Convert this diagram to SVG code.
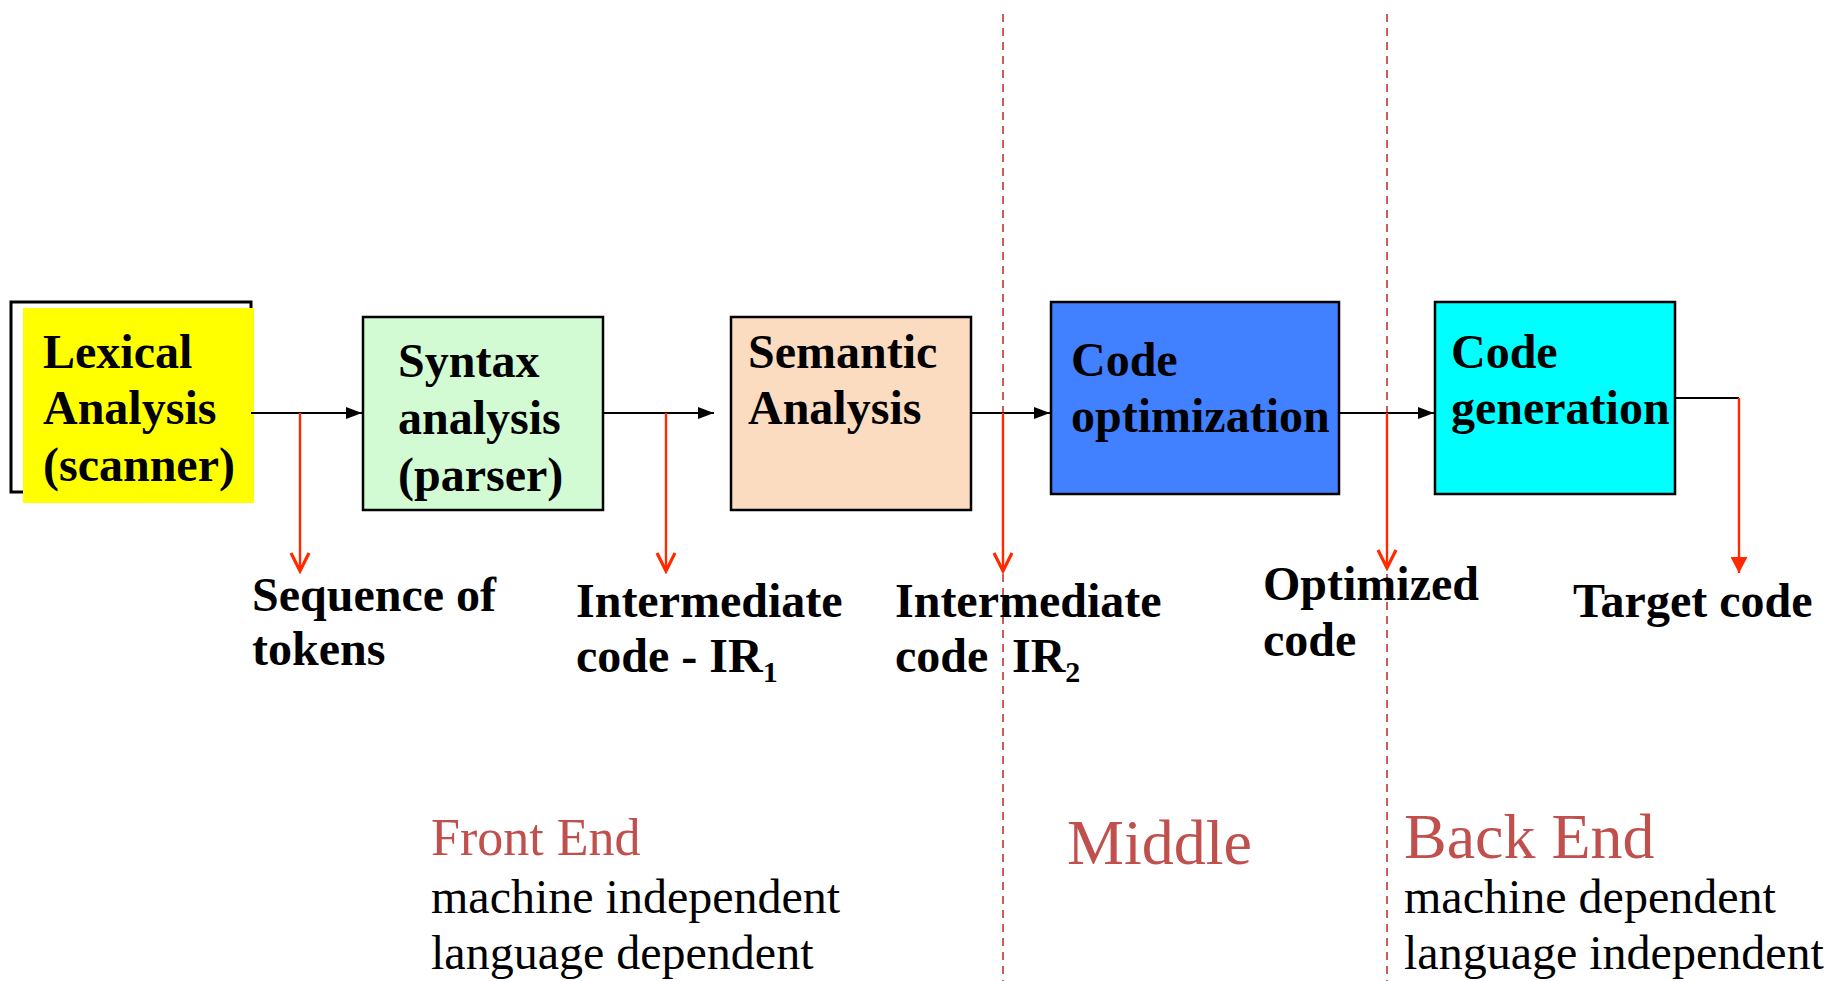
<svg xmlns="http://www.w3.org/2000/svg" width="1830" height="981" viewBox="0 0 1830 981">
<style>
  .box { stroke: #000; stroke-width: 2.5; }
  .nt { font-family: "Liberation Serif", "Times New Roman", serif; font-weight: bold; font-size: 48px; fill: #000; }
  .lab { font-family: "Liberation Serif", "Times New Roman", serif; font-weight: bold; font-size: 48px; fill: #000; }
  .sub { font-size: 30px; }
  .flow { stroke: #000; stroke-width: 2; fill: none; }
  .out { stroke: #ff2a00; stroke-width: 2.4; fill: none; }
  .div { stroke: #cd5c5c; stroke-width: 2; stroke-dasharray: 8 6; fill: none; }
  .head { font-family: "Liberation Serif", "Times New Roman", serif; fill: #c0504d; }
  .desc { font-family: "Liberation Serif", "Times New Roman", serif; font-size: 48px; fill: #000; }
</style>
<defs>
  <marker id="blk" viewBox="0 0 16 12" refX="16" refY="6" markerWidth="16" markerHeight="12" markerUnits="userSpaceOnUse" orient="auto">
    <path d="M0,0 L16,6 L0,12 z" fill="#000"/>
  </marker>
  <marker id="vee" viewBox="-3 -3 24 24" refX="18" refY="9" markerWidth="24" markerHeight="24" markerUnits="userSpaceOnUse" orient="auto">
    <path d="M0,0 L18,9 L0,18" fill="none" stroke="#ff2a00" stroke-width="3.2"/>
  </marker>
  <marker id="tri" viewBox="0 0 16 17" refX="16" refY="8.5" markerWidth="16" markerHeight="17" markerUnits="userSpaceOnUse" orient="auto">
    <path d="M0,0 L16,8.5 L0,17 z" fill="#ff2a00"/>
  </marker>
</defs>
<rect width="1830" height="981" fill="#fff"/>

<g id="dividers">
  <line class="div" x1="1003" y1="14" x2="1003" y2="981"/>
  <line class="div" x1="1387" y1="14" x2="1387" y2="981"/>
</g>

<g id="lexical">
  <rect x="11" y="302" width="240" height="190" fill="none" stroke="#000" stroke-width="3"/>
  <rect x="23" y="308" width="231" height="195" fill="#ffff00"/>
  <text class="nt" x="43" y="368">Lexical</text>
  <text class="nt" x="43" y="424">Analysis</text>
  <text class="nt" x="43" y="481">(scanner)</text>
</g>

<g id="syntax">
  <rect class="box" x="363" y="317" width="240" height="193" fill="#d3fbd3"/>
  <text class="nt" x="398" y="377">Syntax</text>
  <text class="nt" x="398" y="434">analysis</text>
  <text class="nt" x="398" y="491">(parser)</text>
</g>

<g id="semantic">
  <rect class="box" x="731" y="317" width="240" height="193" fill="#fbdcc0"/>
  <text class="nt" x="748" y="368">Semantic</text>
  <text class="nt" x="748" y="424">Analysis</text>
</g>

<g id="codeopt">
  <rect class="box" x="1051" y="302" width="288" height="192" fill="#4180ff"/>
  <text class="nt" x="1071" y="376">Code</text>
  <text class="nt" x="1071" y="432">optimization</text>
</g>

<g id="codegen">
  <rect class="box" x="1435" y="302" width="240" height="192" fill="#00ffff"/>
  <text class="nt" x="1451" y="368">Code</text>
  <text class="nt" x="1451" y="424">generation</text>
</g>

<g id="connectors">
  <line class="flow" x1="251" y1="413" x2="362" y2="413" marker-end="url(#blk)"/>
  <line class="flow" x1="603" y1="413" x2="714" y2="413" marker-end="url(#blk)"/>
  <line class="flow" x1="971" y1="413" x2="1050" y2="413" marker-end="url(#blk)"/>
  <line class="flow" x1="1339" y1="413" x2="1434" y2="413" marker-end="url(#blk)"/>
  <polyline class="flow" points="1675,398 1739,398"/>
  <line class="out" x1="300" y1="413" x2="300" y2="571" marker-end="url(#vee)"/>
  <line class="out" x1="666" y1="413" x2="666" y2="571" marker-end="url(#vee)"/>
  <line class="out" x1="1003" y1="413" x2="1003" y2="571" marker-end="url(#vee)"/>
  <line class="out" x1="1387" y1="413" x2="1387" y2="568" marker-end="url(#vee)"/>
  <line class="out" x1="1739" y1="398" x2="1739" y2="573" marker-end="url(#tri)"/>
</g>

<g id="labels">
  <text class="lab" x="252" y="611">Sequence of</text>
  <text class="lab" x="252" y="665">tokens</text>
  <text class="lab" x="576" y="617">Intermediate</text>
  <text class="lab" x="576" y="672">code - IR<tspan class="sub" dy="10">1</tspan></text>
  <text class="lab" x="895" y="617">Intermediate</text>
  <text class="lab" x="895" y="672">code<tspan x="1012">IR</tspan><tspan class="sub" dy="10">2</tspan></text>
  <text class="lab" x="1263" y="600">Optimized</text>
  <text class="lab" x="1263" y="656">code</text>
  <text class="lab" x="1573" y="617">Target code</text>
</g>

<g id="regions">
  <text class="head" x="431" y="855" font-size="52">Front End</text>
  <text class="desc" x="431" y="913">machine independent</text>
  <text class="desc" x="431" y="969">language dependent</text>
  <text class="head" x="1067" y="864" font-size="64">Middle</text>
  <text class="head" x="1404" y="858" font-size="64">Back End</text>
  <text class="desc" x="1404" y="913">machine dependent</text>
  <text class="desc" x="1404" y="969">language independent</text>
</g>
</svg>
